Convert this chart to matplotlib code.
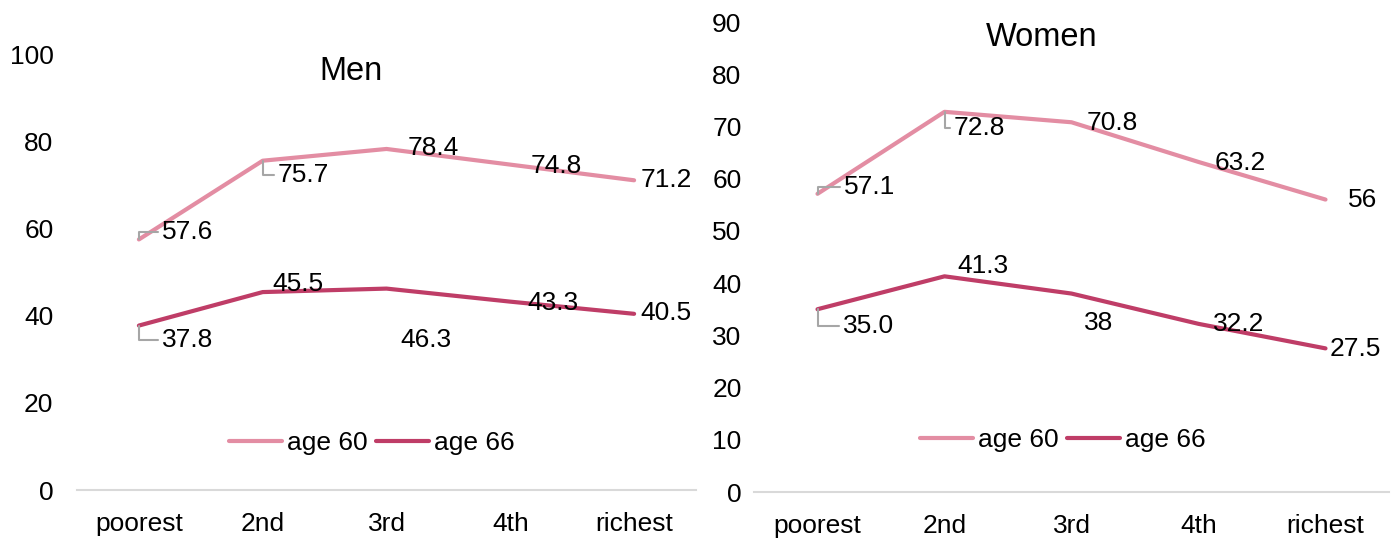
import matplotlib.pyplot as plt

plt.rcParams['font.family'] = ['Liberation Sans', 'DejaVu Sans']

# data
groups = ["poorest", "2nd", "3rd", "4th", "richest"]
men_60 = [57.6, 75.7, 78.4, 74.8, 71.2]
men_66 = [37.8, 45.5, 46.3, 43.3, 40.5]
women_60 = [57.1, 72.8, 70.8, 63.2, 56]
women_66 = [35.0, 41.3, 38, 32.2, 27.5]
men_60_lbl = ["57.6", "75.7", "78.4", "74.8", "71.2"]
men_66_lbl = ["37.8", "45.5", "46.3", "43.3", "40.5"]
women_60_lbl = ["57.1", "72.8", "70.8", "63.2", "56"]
women_66_lbl = ["35.0", "41.3", "38", "32.2", "27.5"]

# label offsets in pixels (dx, dy), and whether a leader line is drawn
men_60_off = [(49, 7), (41, -14), (47, 1), (46, -1), (32, 0)]
men_66_off = [(49, -14), (35, 8), (39, -51), (43, -1), (32, 1)]
women_60_off = [(52, 7), (35, -16), (41, -1), (42, -1), (37, 0)]
women_66_off = [(51, -17), (38, 10), (27, -29), (40, 0), (30, -1)]
men_60_lead = [True, True, False, False, False]
men_66_lead = [True, False, False, False, False]
women_60_lead = [True, True, False, False, False]
women_66_lead = [True, False, False, False, False]

c60 = "#E38DA3"
c66 = "#BF3D67"
fs = 19

W, H = 1397, 539
fig = plt.figure(figsize=(W / 100, H / 100), dpi=100)


def px(x0, y0, x1, y1):
    return [x0 / W, 1 - y1 / H, (x1 - x0) / W, (y1 - y0) / H]


ax1 = fig.add_axes(px(77, 55, 696, 490))
ax2 = fig.add_axes(px(754, 22, 1389, 492))


def draw(ax, s60, s66, l60, l66, o60, o66, d60, d66, ymax, ystep, ypad):
    x = range(len(groups))
    ax.plot(x, s60, color=c60, lw=3, label="age 60", solid_capstyle="round")
    ax.plot(x, s66, color=c66, lw=3, label="age 66", solid_capstyle="round")
    for vals, labs, offs, leads in ((s60, l60, o60, d60), (s66, l66, o66, d66)):
        for i, (v, t, o, ld) in enumerate(zip(vals, labs, offs, leads)):
            kw = {}
            if ld:
                kw["arrowprops"] = dict(arrowstyle="-", color="#A6A6A6", lw=1.5,
                                        connectionstyle="angle,angleA=0,angleB=90,rad=0",
                                        shrinkA=1, shrinkB=0)
            ax.annotate(t, (i, v), xytext=o, textcoords="offset pixels",
                        ha="center", va="center", fontsize=fs, color="black", **kw)
    ax.set_xlim(-0.5, len(groups) - 0.5)
    ax.set_ylim(0, ymax)
    ax.set_yticks(range(0, ymax + 1, ystep))
    ax.set_xticks(list(x), groups)
    for s in ("top", "right", "left"):
        ax.spines[s].set_visible(False)
    ax.spines["bottom"].set_color("#D9D9D9")
    ax.spines["bottom"].set_linewidth(1.5)
    ax.tick_params(axis="both", length=0, labelsize=fs, colors="black")
    ax.tick_params(axis="y", pad=ypad)
    ax.tick_params(axis="x", pad=16)


draw(ax1, men_60, men_66, men_60_lbl, men_66_lbl, men_60_off, men_66_off,
     men_60_lead, men_66_lead, 100, 20, 17)
draw(ax2, women_60, women_66, women_60_lbl, women_66_lbl, women_60_off, women_66_off,
     women_60_lead, women_66_lead, 90, 10, 9)

fig.text(351 / W, 1 - 71 / H, "Men", ha="center", va="center", fontsize=23.5)
fig.text(1042 / W, 1 - 37 / H, "Women", ha="center", va="center", fontsize=23.5)

for ax, cx, cy in ((ax1, 372, 443), (ax2, 1063, 440)):
    ax.legend(loc="center", bbox_to_anchor=(cx / W, 1 - cy / H), bbox_transform=fig.transFigure,
              ncol=2, frameon=False, fontsize=fs, handlelength=2.0, handletextpad=0.2,
              columnspacing=0.3, borderpad=0)

fig.savefig("out.png", dpi=100)
